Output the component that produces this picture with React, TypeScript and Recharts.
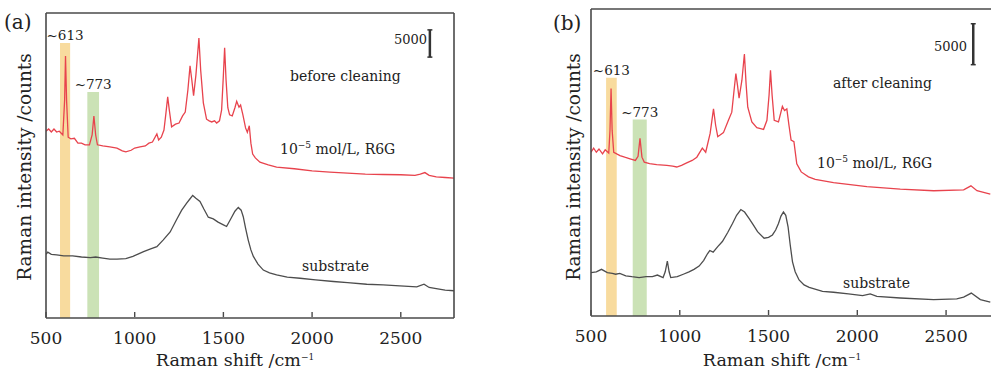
import React from 'react';
import { LineChart, Line, XAxis, YAxis, ReferenceArea, ReferenceLine } from 'recharts';

// Raman shift ticks (cm-1)
const shiftTicks = [500, 1000, 1500, 2000, 2500];

// (a) before cleaning - R6G spectrum
const shiftA_r6g = [500, 515, 530, 545, 560, 575, 595, 605, 610, 616, 625, 640, 660, 680, 700, 720, 745, 760, 770, 780, 790, 820, 860, 900, 930, 950, 980, 1000, 1030, 1060, 1080, 1100, 1125, 1135, 1150, 1165, 1175, 1186, 1195, 1208, 1230, 1250, 1270, 1285, 1300, 1312, 1322, 1332, 1345, 1362, 1372, 1387, 1405, 1420, 1434, 1450, 1462, 1478, 1490, 1500, 1507, 1515, 1525, 1535, 1550, 1565, 1575, 1588, 1597, 1610, 1625, 1635, 1646, 1655, 1665, 1680, 1706, 1753, 1800, 1900, 2000, 2100, 2200, 2300, 2400, 2500, 2580, 2610, 2636, 2660, 2700, 2750, 2800];
const countsA_r6g = [34300, 34700, 34150, 34700, 34150, 34300, 33600, 40000, 48100, 40000, 33200, 32900, 33000, 32100, 32100, 31800, 31800, 33600, 37100, 33600, 31800, 31600, 31400, 31200, 30700, 30500, 30800, 31200, 31400, 31600, 32100, 32300, 33800, 32700, 33200, 34500, 37300, 40600, 38200, 35100, 35600, 35800, 37100, 37800, 41900, 46300, 43700, 40800, 44600, 51400, 45500, 39500, 36500, 36200, 36000, 36200, 35800, 36200, 38200, 44600, 49600, 43700, 38600, 37300, 37100, 38600, 39800, 38700, 39100, 37300, 34900, 34100, 35300, 32100, 30100, 29400, 28600, 28100, 27700, 27400, 27000, 26800, 26600, 26400, 26350, 26300, 26200, 26400, 26700, 26200, 25900, 25800, 25700];

// (a) substrate
const shiftA_sub = [500, 510, 530, 560, 600, 650, 700, 750, 780, 820, 860, 900, 950, 990, 1050, 1090, 1125, 1160, 1200, 1235, 1265, 1293, 1310, 1327, 1345, 1368, 1390, 1415, 1443, 1470, 1500, 1518, 1545, 1565, 1584, 1600, 1612, 1625, 1640, 1655, 1669, 1695, 1725, 1760, 1800, 1860, 1932, 2020, 2120, 2200, 2308, 2400, 2495, 2590, 2631, 2660, 2700, 2750, 2800];
const countsA_sub = [11700, 12100, 11700, 11600, 11400, 11400, 11200, 11100, 11200, 11000, 10800, 10800, 10900, 11300, 12200, 12700, 13100, 14300, 15800, 18000, 19800, 21100, 21800, 22500, 22000, 21400, 20000, 18500, 18200, 17600, 17100, 16800, 18400, 19600, 20300, 19800, 18600, 16500, 14300, 12500, 11300, 9900, 8800, 8300, 7900, 7500, 7300, 7000, 6700, 6500, 6200, 6100, 5900, 5700, 6200, 5600, 5400, 5100, 5000];

// (b) after cleaning - R6G spectrum
const shiftB_r6g = [500, 515, 530, 545, 565, 580, 600, 607, 613, 619, 628, 645, 663, 690, 720, 750, 765, 776, 787, 800, 830, 870, 927, 960, 983, 1010, 1039, 1070, 1096, 1127, 1146, 1171, 1190, 1202, 1214, 1246, 1274, 1293, 1306, 1316, 1325, 1334, 1350, 1364, 1374, 1383, 1406, 1434, 1455, 1472, 1491, 1503, 1511, 1520, 1532, 1556, 1578, 1590, 1603, 1615, 1627, 1643, 1659, 1684, 1725, 1763, 1866, 2054, 2242, 2430, 2599, 2640, 2674, 2749];
const countsB_r6g = [20000, 20500, 20000, 20400, 19800, 20300, 19900, 22700, 27800, 22700, 20000, 19800, 19600, 19400, 19200, 19000, 19500, 21700, 19400, 18800, 18600, 18500, 18400, 18300, 18200, 18400, 18700, 19000, 19400, 20500, 20000, 22300, 25300, 23300, 21900, 22400, 23900, 24900, 27600, 29600, 28200, 26600, 28800, 32000, 28200, 25500, 23700, 23000, 22900, 22800, 23900, 27000, 30000, 27000, 23900, 23700, 25600, 25100, 25300, 23300, 21500, 21300, 18600, 17600, 17000, 16700, 16300, 15800, 15500, 15300, 15400, 15900, 15300, 14900];

// (b) substrate
const shiftB_sub = [500, 530, 559, 592, 620, 639, 662, 696, 730, 771, 810, 846, 874, 906, 918, 930, 940, 949, 986, 1020, 1052, 1080, 1109, 1135, 1156, 1169, 1188, 1215, 1240, 1270, 1297, 1320, 1344, 1365, 1391, 1415, 1438, 1475, 1500, 1522, 1540, 1556, 1570, 1584, 1597, 1610, 1622, 1635, 1650, 1672, 1700, 1729, 1804, 1866, 1950, 2030, 2073, 2110, 2242, 2430, 2560, 2599, 2642, 2693, 2749];
const countsB_sub = [5300, 5400, 5700, 5300, 5200, 5100, 5200, 4900, 4800, 4700, 4800, 4800, 5000, 4700, 5400, 6700, 5400, 4700, 4800, 5100, 5400, 5700, 6100, 6800, 7600, 8000, 7800, 8500, 9100, 10200, 11300, 12300, 13000, 12700, 11900, 11100, 10300, 9500, 9600, 9900, 10500, 11300, 12200, 12700, 12300, 10900, 8700, 6600, 5400, 4400, 3800, 3500, 3000, 2900, 2700, 2500, 2700, 2400, 2200, 2000, 2100, 2300, 2800, 2000, 1700];

// highlighted bands [from, to, top] and scale bar [x, y0, y1]
const bandsA = { p613: [579, 636, 50500], p773: [733, 799, 41500] };
const bandsB = { p613: [585, 645, 29100], p773: [735, 814, 24000] };
const scaleA = [2664, 47900, 52900];
const scaleB = [2653, 30700, 35700];

const toPoints = (xs: number[], ys: number[]) => xs.map((x, i) => ({ x, y: ys[i] }));

const FONT = '"DejaVu Serif", serif';
const FRAME = '#4a4a4a';
const RED = '#e8434d';
const GRAY = '#4d4d4d';

const BottomTick = (props: any) => {
  const { x, y, payload } = props;
  return (
    <g>
      <line x1={x} y1={y - 1} x2={x} y2={y - 6} stroke={FRAME} strokeWidth={1.4} />
      <text x={x} y={y + 26} textAnchor="middle" fontFamily={FONT} fontSize={17} fill="#222">
        {payload.value}
      </text>
    </g>
  );
};

interface PanelProps {
  r6g: { x: number; y: number }[];
  sub: { x: number; y: number }[];
  bands: { p613: number[]; p773: number[] };
  scale: number[];
  xMax: number;
  yMax: number;
  margin: { top: number; right: number; bottom: number; left: number };
  width: number;
  rightFrame: boolean;
}

function Panel({ r6g, sub, bands, scale, xMax, yMax, margin, width, rightFrame }: PanelProps) {
  const labelStyle = { fontFamily: FONT, fontSize: 13.5, fill: '#222' };
  return (
    <LineChart width={width} height={370} margin={margin}>
      <XAxis
        type="number"
        dataKey="x"
        domain={[500, xMax]}
        ticks={shiftTicks}
        allowDataOverflow
        height={1}
        tickSize={0}
        tickMargin={0}
        tickLine={false}
        tick={<BottomTick />}
        axisLine={{ stroke: FRAME, strokeWidth: 1.6 }}
      />
      <XAxis
        xAxisId="top"
        orientation="top"
        type="number"
        domain={[500, xMax]}
        height={1}
        tick={false}
        tickLine={false}
        axisLine={{ stroke: FRAME, strokeWidth: 1.6 }}
      />
      <YAxis
        type="number"
        domain={[0, yMax]}
        allowDataOverflow
        width={1}
        tick={false}
        tickLine={false}
        axisLine={{ stroke: FRAME, strokeWidth: 1.6 }}
      />
      {rightFrame && (
        <YAxis
          yAxisId="right"
          orientation="right"
          type="number"
          domain={[0, 1]}
          width={1}
          tick={false}
          tickLine={false}
          axisLine={{ stroke: FRAME, strokeWidth: 1.6 }}
        />
      )}
      <Line data={r6g} dataKey="y" stroke={RED} strokeWidth={1.3} dot={false} isAnimationActive={false} />
      <Line data={sub} dataKey="y" stroke={GRAY} strokeWidth={1.3} dot={false} isAnimationActive={false} />
      <ReferenceArea
        x1={bands.p613[0]}
        x2={bands.p613[1]}
        y1={0}
        y2={bands.p613[2]}
        fill="#f5c76a"
        fillOpacity={0.65}
        stroke="none"
        label={{ value: '~613', position: 'top', offset: 3, style: labelStyle }}
      />
      <ReferenceArea
        x1={bands.p773[0]}
        x2={bands.p773[1]}
        y1={0}
        y2={bands.p773[2]}
        fill="#a9cf85"
        fillOpacity={0.6}
        stroke="none"
        label={{ value: '~773', position: 'top', offset: 3, style: labelStyle }}
      />
      <ReferenceLine segment={[{ x: scale[0], y: scale[1] }, { x: scale[0], y: scale[2] }]} stroke="#333" strokeWidth={2.5} />
      <ReferenceLine segment={[{ x: scale[0] - 14, y: scale[1] }, { x: scale[0] + 14, y: scale[1] }]} stroke="#333" strokeWidth={1.5} />
      <ReferenceLine segment={[{ x: scale[0] - 14, y: scale[2] }, { x: scale[0] + 14, y: scale[2] }]} stroke="#333" strokeWidth={1.5} />
    </LineChart>
  );
}

const Sup = ({ children }: { children: React.ReactNode }) => (
  <tspan dy={-6} fontSize={9}>{children}</tspan>
);

export default function App() {
  const t = { fontFamily: FONT, fill: '#222' };
  return (
    <div style={{ position: 'absolute', left: 0, top: 0, width: 991, height: 370, background: '#fff', overflow: 'hidden' }}>
      <div style={{ position: 'absolute', left: 0, top: 0 }}>
        <Panel
          r6g={toPoints(shiftA_r6g, countsA_r6g)}
          sub={toPoints(shiftA_sub, countsA_sub)}
          bands={bandsA}
          scale={scaleA}
          xMax={2800}
          yMax={56000}
          width={460}
          margin={{ top: 12, right: 5, bottom: 51, left: 45 }}
          rightFrame
        />
      </div>
      <div style={{ position: 'absolute', left: 545, top: 0 }}>
        <Panel
          r6g={toPoints(shiftB_r6g, countsB_r6g)}
          sub={toPoints(shiftB_sub, countsB_sub)}
          bands={bandsB}
          scale={scaleB}
          xMax={2753}
          yMax={37500}
          width={446}
          margin={{ top: 8, right: 0, bottom: 53, left: 45 }}
          rightFrame={false}
        />
      </div>
      <svg width={991} height={370} style={{ position: 'absolute', left: 0, top: 0, pointerEvents: 'none' }}>
        {/* panel (a) */}
        <text x={4} y={29} fontSize={20} {...t}>(a)</text>
        <text x={24} y={167} fontSize={18.5} textAnchor="middle" dominantBaseline="central" transform="rotate(-90 24 167)" {...t}>
          Raman intensity /counts
        </text>
        <text x={235} y={366} fontSize={17.5} textAnchor="middle" {...t}>
          Raman shift /cm<Sup>−1</Sup>
        </text>
        <text x={427} y={44} fontSize={13} textAnchor="end" {...t}>5000</text>
        <text x={290} y={81} fontSize={14} {...t}>before cleaning</text>
        <text x={280} y={154} fontSize={14} {...t}>
          10<Sup>−5</Sup><tspan dy={6}> mol/L, R6G</tspan>
        </text>
        <text x={302} y={271} fontSize={14} {...t}>substrate</text>

        {/* panel (b) */}
        <text x={553} y={30} fontSize={20} {...t}>(b)</text>
        <text x={573} y={167} fontSize={18.5} textAnchor="middle" dominantBaseline="central" transform="rotate(-90 573 167)" {...t}>
          Raman intensity /counts
        </text>
        <text x={782} y={366} fontSize={17.5} textAnchor="middle" {...t}>
          Raman shift /cm<Sup>−1</Sup>
        </text>
        <text x={967} y={51} fontSize={13} textAnchor="end" {...t}>5000</text>
        <text x={833} y={88} fontSize={14} {...t}>after cleaning</text>
        <text x={817} y={168} fontSize={14} {...t}>
          10<Sup>−5</Sup><tspan dy={6}> mol/L, R6G</tspan>
        </text>
        <text x={843} y={288} fontSize={14} {...t}>substrate</text>
      </svg>
    </div>
  );
}
